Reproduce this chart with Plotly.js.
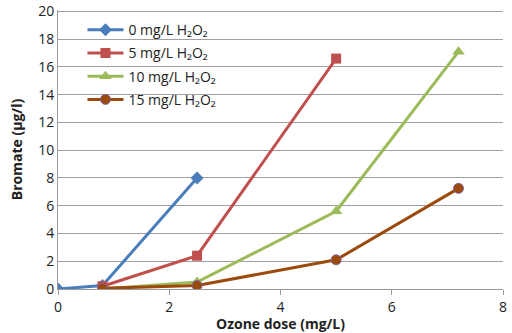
<!DOCTYPE html>
<html><head><meta charset="utf-8">
<script src="https://cdn.plot.ly/plotly-3.0.1.min.js"></script>
<style>body{margin:0;padding:0;background:#fff}#chart{width:512px;height:333px}</style>
</head><body><div id="chart"></div>
<script>
const names = ["0 mg/L H₂O₂","5 mg/L H₂O₂","10 mg/L H₂O₂","15 mg/L H₂O₂"];
const x0 = [0, 0.8, 2.5];
const y0 = [0, 0.25, 8.0];
const x5 = [0.8, 2.5, 5.0];
const y5 = [0.2, 2.4, 16.6];
const x10 = [0.8, 2.5, 5.0, 7.2];
const y10 = [0.0, 0.5, 5.6, 17.1];
const x15 = [0.8, 2.5, 5.0, 7.2];
const y15 = [0.05, 0.25, 2.1, 7.25];
const colors = ["#4a7ebb","#c0504d","#9bbb59","#9c4a0c"];
const symbols = ["diamond","square","triangle-up","circle"];
const xs=[x0,x5,x10,x15], ys=[y0,y5,y10,y15];
const traces = xs.map((x,i)=>({
  x:x, y:ys[i], name:names[i], type:'scatter', mode:'lines+markers', legendgroup:'g'+i,
  line:{color: colors[i], width:3},
  marker:{symbol:symbols[i], size: i===2?11:10, color: colors[i],
    line:{color: i===3?'#8064a2':colors[i], width: i===3?1:0}}
}));
const layout = {
  width:512, height:333,
  margin:{l:58, r:9, t:10, b:44},
  paper_bgcolor:'#fff', plot_bgcolor:'#fff',
  font:{family:'"Open Sans", "Liberation Sans", sans-serif', size:14, color:'#222'},
  showlegend:true,
  legend:{x:0.055, y:0.985, xanchor:'left', yanchor:'top', bgcolor:'rgba(0,0,0,0)', font:{size:14}, tracegroupgap:2, itemwidth:36},
  xaxis:{range:[0,8], dtick:2, showgrid:false, zeroline:false, showline:true, linecolor:'#999', linewidth:1,
    ticks:'outside', ticklen:5, tickcolor:'#999', tickfont:{size:14},
    title:{text:'<b>Ozone dose (mg/L)</b>', font:{size:14}, standoff:2}},
  yaxis:{range:[0,20.1], tick0:0, dtick:2, showgrid:true, gridcolor:'#a0a0a0', gridwidth:1, zeroline:false, showline:true, linecolor:'#999',
    ticks:'', tickfont:{size:14}, ticklabeloverflow:'allow',
    title:{text:'<b>Bromate (µg/l)</b>', font:{size:14}, standoff:12}}
};
Plotly.newPlot('chart', traces, layout, {displayModeBar:false, staticPlot:true});
</script></body></html>
